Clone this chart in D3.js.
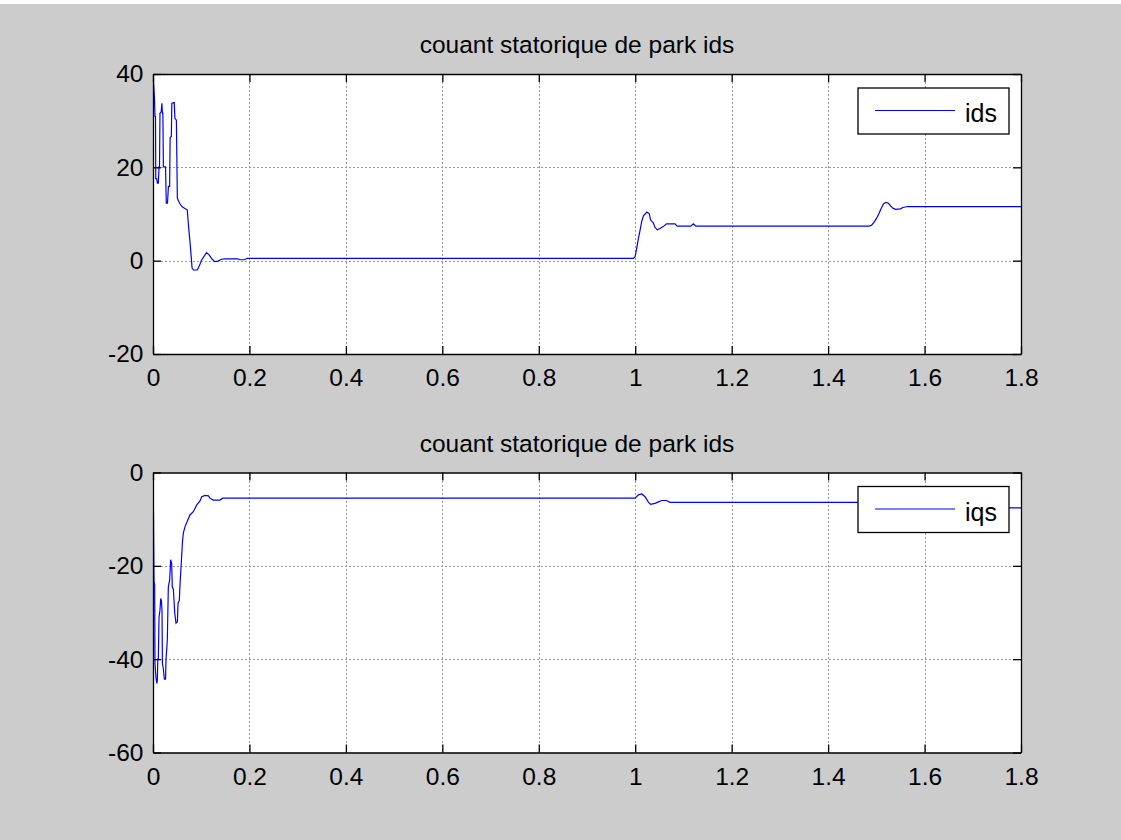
<!DOCTYPE html>
<html>
<head>
<meta charset="utf-8">
<script src="https://cdn.jsdelivr.net/npm/d3@7"></script>
<style>
  html, body { margin: 0; padding: 0; background: #ffffff; }
  svg { display: block; font-family: Arial, "Liberation Sans", sans-serif; }
</style>
</head>
<body>
<svg id="fig" width="1121" height="840"></svg>
<script>
// Park-frame stator currents: time (s) and current samples
const tIds = [0, 0.0008, 0.003, 0.0041, 0.0052, 0.0058, 0.0076, 0.009, 0.011, 0.0125, 0.0135, 0.0145,
  0.017, 0.0185, 0.0195, 0.0205, 0.0215, 0.026, 0.0275, 0.030, 0.032, 0.0345, 0.0355, 0.038, 0.039,
  0.044, 0.0455, 0.0485, 0.0495, 0.0505, 0.055, 0.060, 0.066, 0.071, 0.074, 0.077, 0.0795, 0.081,
  0.084, 0.092, 0.097, 0.100, 0.105, 0.111, 0.116, 0.122, 0.128, 0.135, 0.142, 0.150, 0.176, 0.18,
  0.19, 0.195, 0.996, 0.9996, 1.003, 1.0065, 1.010, 1.0135, 1.017, 1.024, 1.029, 1.032, 1.0375,
  1.041, 1.046, 1.0514, 1.058, 1.065, 1.0826, 1.087, 1.115, 1.1205, 1.126, 1.485, 1.49, 1.495, 1.50,
  1.505, 1.51, 1.515, 1.52, 1.525, 1.53, 1.535, 1.54, 1.55, 1.555, 1.565, 1.8];
const ids = [0, 38.7, 35, 30.9, 30.9, 17.6, 17.6, 16.6, 16.6, 20.1, 20.1, 31.6,
  31.9, 33.7, 31.6, 31.6, 20.1, 20.1, 12.3, 12.3, 15.9, 15.9, 26.4, 26.6, 33.7,
  33.9, 30.5, 30.1, 21.6, 13.4, 12.3, 11.6, 11.2, 10.9, 7, 3.7, 0.5, -1.6,
  -2.0, -2.0, -0.9, 0.0, 0.8, 1.7, 1.3, 0.4, -0.2, -0.1, 0.3, 0.4, 0.4, 0.2,
  0.2, 0.5, 0.5, 0.8, 2.6, 4.7, 6.5, 8.4, 9.6, 10.4, 10.1, 8.7, 8.1,
  7.1, 6.6, 6.9, 7.3, 7.9, 7.9, 7.4, 7.4, 7.9, 7.4, 7.4, 7.6, 8.2, 9.0,
  10, 11.2, 12.2, 12.5, 12.3, 11.7, 11.2, 11.0, 11.1, 11.4, 11.6, 11.6];

const tIqs = [0, 0.0007, 0.0021, 0.0035, 0.0041, 0.0062, 0.008, 0.009, 0.010, 0.011, 0.0125, 0.0145,
  0.016, 0.0175, 0.0187, 0.0195, 0.0214, 0.0235, 0.026, 0.027, 0.0297, 0.0318, 0.0345, 0.0367,
  0.0387, 0.040, 0.0422, 0.045, 0.0477, 0.0505, 0.052, 0.0546, 0.056, 0.0594, 0.061, 0.0629,
  0.0664, 0.070, 0.0767, 0.0836, 0.0905, 0.0975, 0.101, 0.108, 0.115, 0.118, 0.125, 0.139,
  0.1445, 0.997, 0.9996, 1.0065, 1.0135, 1.0205, 1.0275, 1.032, 1.041, 1.048, 1.055, 1.065,
  1.072, 1.50, 1.51, 1.53, 1.56, 1.8];
const iqs = [0, -5, -23.4, -24, -40.9, -44, -45.2, -44.5, -40, -40, -31, -29.5,
  -27, -27.5, -29.5, -41, -42, -44.3, -44.3, -40, -35.9, -24.5, -23, -18.7,
  -19.5, -24.5, -25, -30, -32.3, -32, -28, -27.4, -24, -18, -15, -13,
  -11.6, -10.7, -9.1, -8.4, -7, -6.1, -5.2, -4.9, -5.0, -5.5, -5.9, -5.9,
  -5.5, -5.5, -5.5, -4.8, -4.6, -5.2, -6.4, -6.8, -6.6, -6.3, -6.0, -6.0,
  -6.4, -6.4, -7.2, -7.9, -7.6, -7.6];

const xTicks = [0, 0.2, 0.4, 0.6, 0.8, 1, 1.2, 1.4, 1.6, 1.8];
const idsTicks = [-20, 0, 20, 40];
const iqsTicks = [-60, -40, -20, 0];
const titles = ["couant statorique de park ids", "couant statorique de park ids"];
const legendNames = ["ids", "iqs"];

const svg = d3.select("#fig");
const W = 1121, H = 840;

// figure background
svg.append("rect").attr("width", W).attr("height", H).attr("fill", "#ffffff");
svg.append("rect").attr("x", 0).attr("y", 4).attr("width", W).attr("height", H - 4).attr("fill", "#cccccc");

const left = 153, right = 1021;
const fmtX = d => String(+d.toFixed(1));
const fmtY = d => String(d);

function panel(idx, top, bottom, yDomain, yTicks, tArr, vArr) {
  const x = d3.scaleLinear().domain([0, 1.8]).range([left, right]);
  const y = d3.scaleLinear().domain(yDomain).range([bottom, top]);
  const g = svg.append("g");

  g.append("rect").attr("x", left).attr("y", top)
    .attr("width", right - left).attr("height", bottom - top).attr("fill", "#ffffff");

  // dotted grid
  const grid = g.append("g").attr("stroke", "#9a9a9a").attr("stroke-width", 1)
    .attr("stroke-dasharray", "2,2").attr("shape-rendering", "crispEdges");
  grid.selectAll(".gx").data(xTicks.slice(1, -1)).enter().append("line")
    .attr("x1", d => Math.round(x(d)) + 0.5).attr("x2", d => Math.round(x(d)) + 0.5)
    .attr("y1", top).attr("y2", bottom);
  grid.selectAll(".gy").data(yTicks.slice(1, -1)).enter().append("line")
    .attr("y1", d => Math.round(y(d)) + 0.5).attr("y2", d => Math.round(y(d)) + 0.5)
    .attr("x1", left).attr("x2", right);

  // data line
  const clipId = "clip" + idx;
  svg.append("clipPath").attr("id", clipId).append("rect")
    .attr("x", left).attr("y", top).attr("width", right - left).attr("height", bottom - top);
  const pts = tArr.map((t, i) => [t, vArr[i]]);
  g.append("path").datum(pts)
    .attr("clip-path", `url(#${clipId})`)
    .attr("fill", "none").attr("stroke", "#0000ff").attr("stroke-width", 1.2)
    .attr("d", d3.line().x(d => x(d[0])).y(d => y(d[1])));

  // axes with inward ticks
  const axFont = 24.5;
  const bottomAx = g.append("g").attr("transform", `translate(0,${bottom})`)
    .call(d3.axisBottom(x).tickValues(xTicks).tickFormat(fmtX).tickSizeInner(-8).tickSizeOuter(0).tickPadding(15));
  const leftAx = g.append("g").attr("transform", `translate(${left},0)`)
    .call(d3.axisLeft(y).tickValues(yTicks).tickFormat(fmtY).tickSizeInner(-8).tickSizeOuter(0).tickPadding(9.5));
  const topAx = g.append("g").attr("transform", `translate(0,${top})`)
    .call(d3.axisTop(x).tickValues(xTicks).tickFormat("").tickSizeInner(-8).tickSizeOuter(0));
  const rightAx = g.append("g").attr("transform", `translate(${right},0)`)
    .call(d3.axisRight(y).tickValues(yTicks).tickFormat("").tickSizeInner(-8).tickSizeOuter(0));
  [bottomAx, leftAx, topAx, rightAx].forEach(a => {
    a.attr("font-family", null).attr("font-size", null);
    a.selectAll("path.domain").attr("stroke", "#000").attr("stroke-width", 1.3);
    a.selectAll(".tick line").attr("stroke", "#000").attr("stroke-width", 1.3);
    a.selectAll(".tick text").attr("fill", "#000").style("font-size", axFont + "px");
  });

  // title
  g.append("text").attr("x", 577).attr("y", top - 21)
    .attr("text-anchor", "middle").attr("fill", "#000")
    .style("font-size", "24.5px").text(titles[idx]);

  // legend
  const lx = 858, ly = top + 14, lw = 151, lh = 46;
  const lg = g.append("g");
  lg.append("rect").attr("x", lx).attr("y", ly).attr("width", lw).attr("height", lh)
    .attr("fill", "#ffffff").attr("stroke", "#000").attr("stroke-width", 1.3);
  lg.append("line").attr("x1", lx + 17).attr("x2", lx + 97)
    .attr("y1", ly + 22.5).attr("y2", ly + 22.5)
    .attr("stroke", "#0000ff").attr("stroke-width", 1.2);
  lg.append("text").attr("x", lx + 107).attr("y", ly + 34)
    .attr("fill", "#000").style("font-size", "25px").text(legendNames[idx]);
}

panel(0, 74, 354, [-20, 40], idsTicks, tIds, ids);
panel(1, 472.5, 752.5, [-60, 0], iqsTicks, tIqs, iqs);
</script>
</body>
</html>
